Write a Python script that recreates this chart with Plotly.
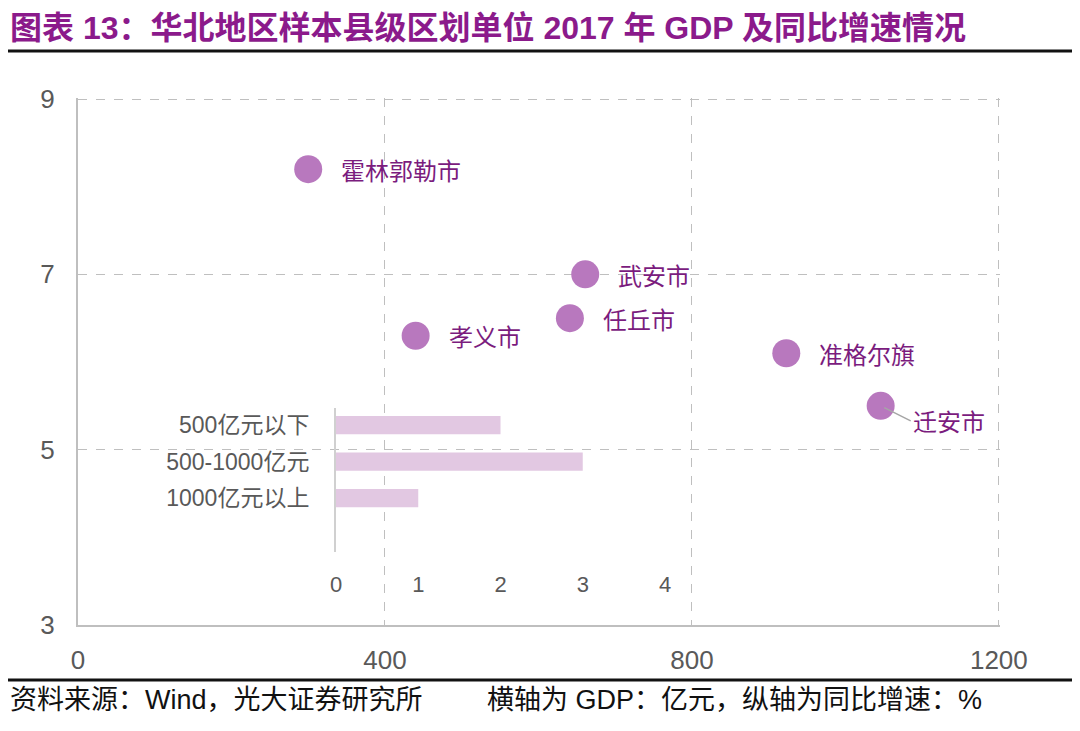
import plotly.graph_objects as go

# ---- data ----
names = ["霍林郭勒市", "武安市", "任丘市", "孝义市", "准格尔旗", "迁安市"]
gdp = [300, 661, 641, 440, 923, 1046]
growth = [8.2, 7.0, 6.5, 6.3, 6.1, 5.5]

bins = ["500亿元以下", "500-1000亿元", "1000亿元以上"]
bin_pos = [2, 1, 0]
counts = [2, 3, 1]

main_x_ticks = [0, 400, 800, 1200]
main_y_ticks = [3, 5, 7, 9]
inset_x_ticks = [0, 1, 2, 3, 4]

# page has an 8px body margin; work in screen pixels and convert
O = 8
W, H = 1064, 715
PL, PR, PT, PB = 78, 1000, 98, 625          # plot box in screen px
L, T = PL - O, PT - O
R, B = W - (PR - O), H - (PB - O)
PW, PH = PR - PL, PB - PT


def px_x(p):
    return (p - PL) / PW


def px_y(p):
    return (PB - p) / PH


GRID = "#BFBFBF"
TICKC = "#595959"
MARK = "#B878BE"
LABC = "#7B1C7E"
BARC = "#E2C8E2"
CJK = "Liberation Sans, Arial, Noto Sans CJK SC"

fig = go.Figure()

fig.add_trace(go.Scatter(
    x=gdp, y=growth, mode="markers",
    marker=dict(size=28, color=MARK, line=dict(width=0)),
    xaxis="x", yaxis="y", hoverinfo="skip", showlegend=False,
))

fig.add_trace(go.Bar(
    x=counts, y=bin_pos, orientation="h", width=0.5,
    marker=dict(color=BARC, line=dict(width=0)),
    xaxis="x2", yaxis="y2", showlegend=False, hoverinfo="skip",
))

annotations = []
for n, gx, gy in zip(names, gdp, growth):
    if n == "迁安市":
        annotations.append(dict(
            x=gx, y=gy, xref="x", yref="y", text=n, showarrow=True,
            arrowhead=0, arrowwidth=1.5, arrowcolor="#A6A6A6",
            ax=30, ay=15, xanchor="left", yanchor="middle", standoff=4,
            font=dict(size=24, color=LABC, family="Noto Sans CJK SC"),
        ))
    else:
        annotations.append(dict(
            x=gx, y=gy, xref="x", yref="y", text=n, showarrow=False,
            xanchor="left", yanchor="middle", xshift=31,
            font=dict(size=24, color=LABC, family="Noto Sans CJK SC"),
        ))

annotations.append(dict(
    x=px_x(8), y=px_y(700), xref="paper", yref="paper", xanchor="left", yanchor="middle",
    text="资料来源：Wind，光大证券研究所", showarrow=False,
    font=dict(size=27, color="#111111", family=CJK),
))
annotations.append(dict(
    x=px_x(485), y=px_y(700), xref="paper", yref="paper", xanchor="left", yanchor="middle",
    text="横轴为 GDP：亿元，纵轴为同比增速：%", showarrow=False,
    font=dict(size=27, color="#111111", family=CJK),
))
annotations.append(dict(
    x=px_x(8), y=px_y(28), xref="paper", yref="paper", xanchor="left", yanchor="middle",
    text="<b>图表 13：华北地区样本县级区划单位 2017 年 GDP 及同比增速情况</b>", showarrow=False,
    font=dict(size=32, color="#8B1A8B", family=CJK),
))

shapes = [
    dict(type="line", xref="paper", yref="paper", x0=px_x(5), x1=px_x(1075),
         y0=px_y(51), y1=px_y(51), line=dict(color="#111111", width=3)),
    dict(type="line", xref="paper", yref="paper", x0=px_x(5), x1=px_x(1075),
         y0=px_y(680), y1=px_y(680), line=dict(color="#111111", width=3)),
]

fig.update_layout(
    width=W, height=H,
    margin=dict(l=L, r=R, t=T, b=B, autoexpand=False),
    paper_bgcolor="white", plot_bgcolor="rgba(0,0,0,0)",
    font=dict(family=CJK, color=TICKC),
    annotations=annotations, shapes=shapes,
    xaxis=dict(
        domain=[0, 1], range=[0, 1201.5], tickvals=main_x_ticks,
        showgrid=True, gridcolor=GRID, griddash="dash", gridwidth=1.3,
        zeroline=False, showline=True, linecolor=GRID, linewidth=2,
        ticks="outside", ticklen=0, ticklabelstandoff=11,
        tickfont=dict(size=26, color=TICKC, family="Liberation Sans, Arial"),
        anchor="y",
    ),
    yaxis=dict(
        domain=[0, 1], range=[3, 9.012], tickvals=main_y_ticks,
        showgrid=True, gridcolor=GRID, griddash="dash", gridwidth=1.3,
        zeroline=False, showline=True, linecolor=GRID, linewidth=2,
        ticks="outside", ticklen=0, ticklabelstandoff=16,
        tickfont=dict(size=26, color=TICKC, family="Liberation Sans, Arial"),
        anchor="x",
    ),
    xaxis2=dict(
        domain=[px_x(336), px_x(665)], range=[0, 4], tickvals=inset_x_ticks,
        showgrid=False, zeroline=False, showline=False,
        ticks="outside", ticklen=0, ticklabelstandoff=13,
        tickfont=dict(size=22, color=TICKC, family="Liberation Sans, Arial"),
        anchor="y2",
    ),
    yaxis2=dict(
        domain=[px_y(552), px_y(408)], range=[-1.48, 2.47],
        tickvals=bin_pos, ticktext=bins,
        showgrid=False, zeroline=False, showline=True, linecolor="#D0D0D0", linewidth=2,
        ticks="outside", ticklen=0, ticklabelstandoff=20,
        tickfont=dict(size=23, color=TICKC, family=CJK),
        anchor="x2",
    ),
)

fig.write_html("out.html")
